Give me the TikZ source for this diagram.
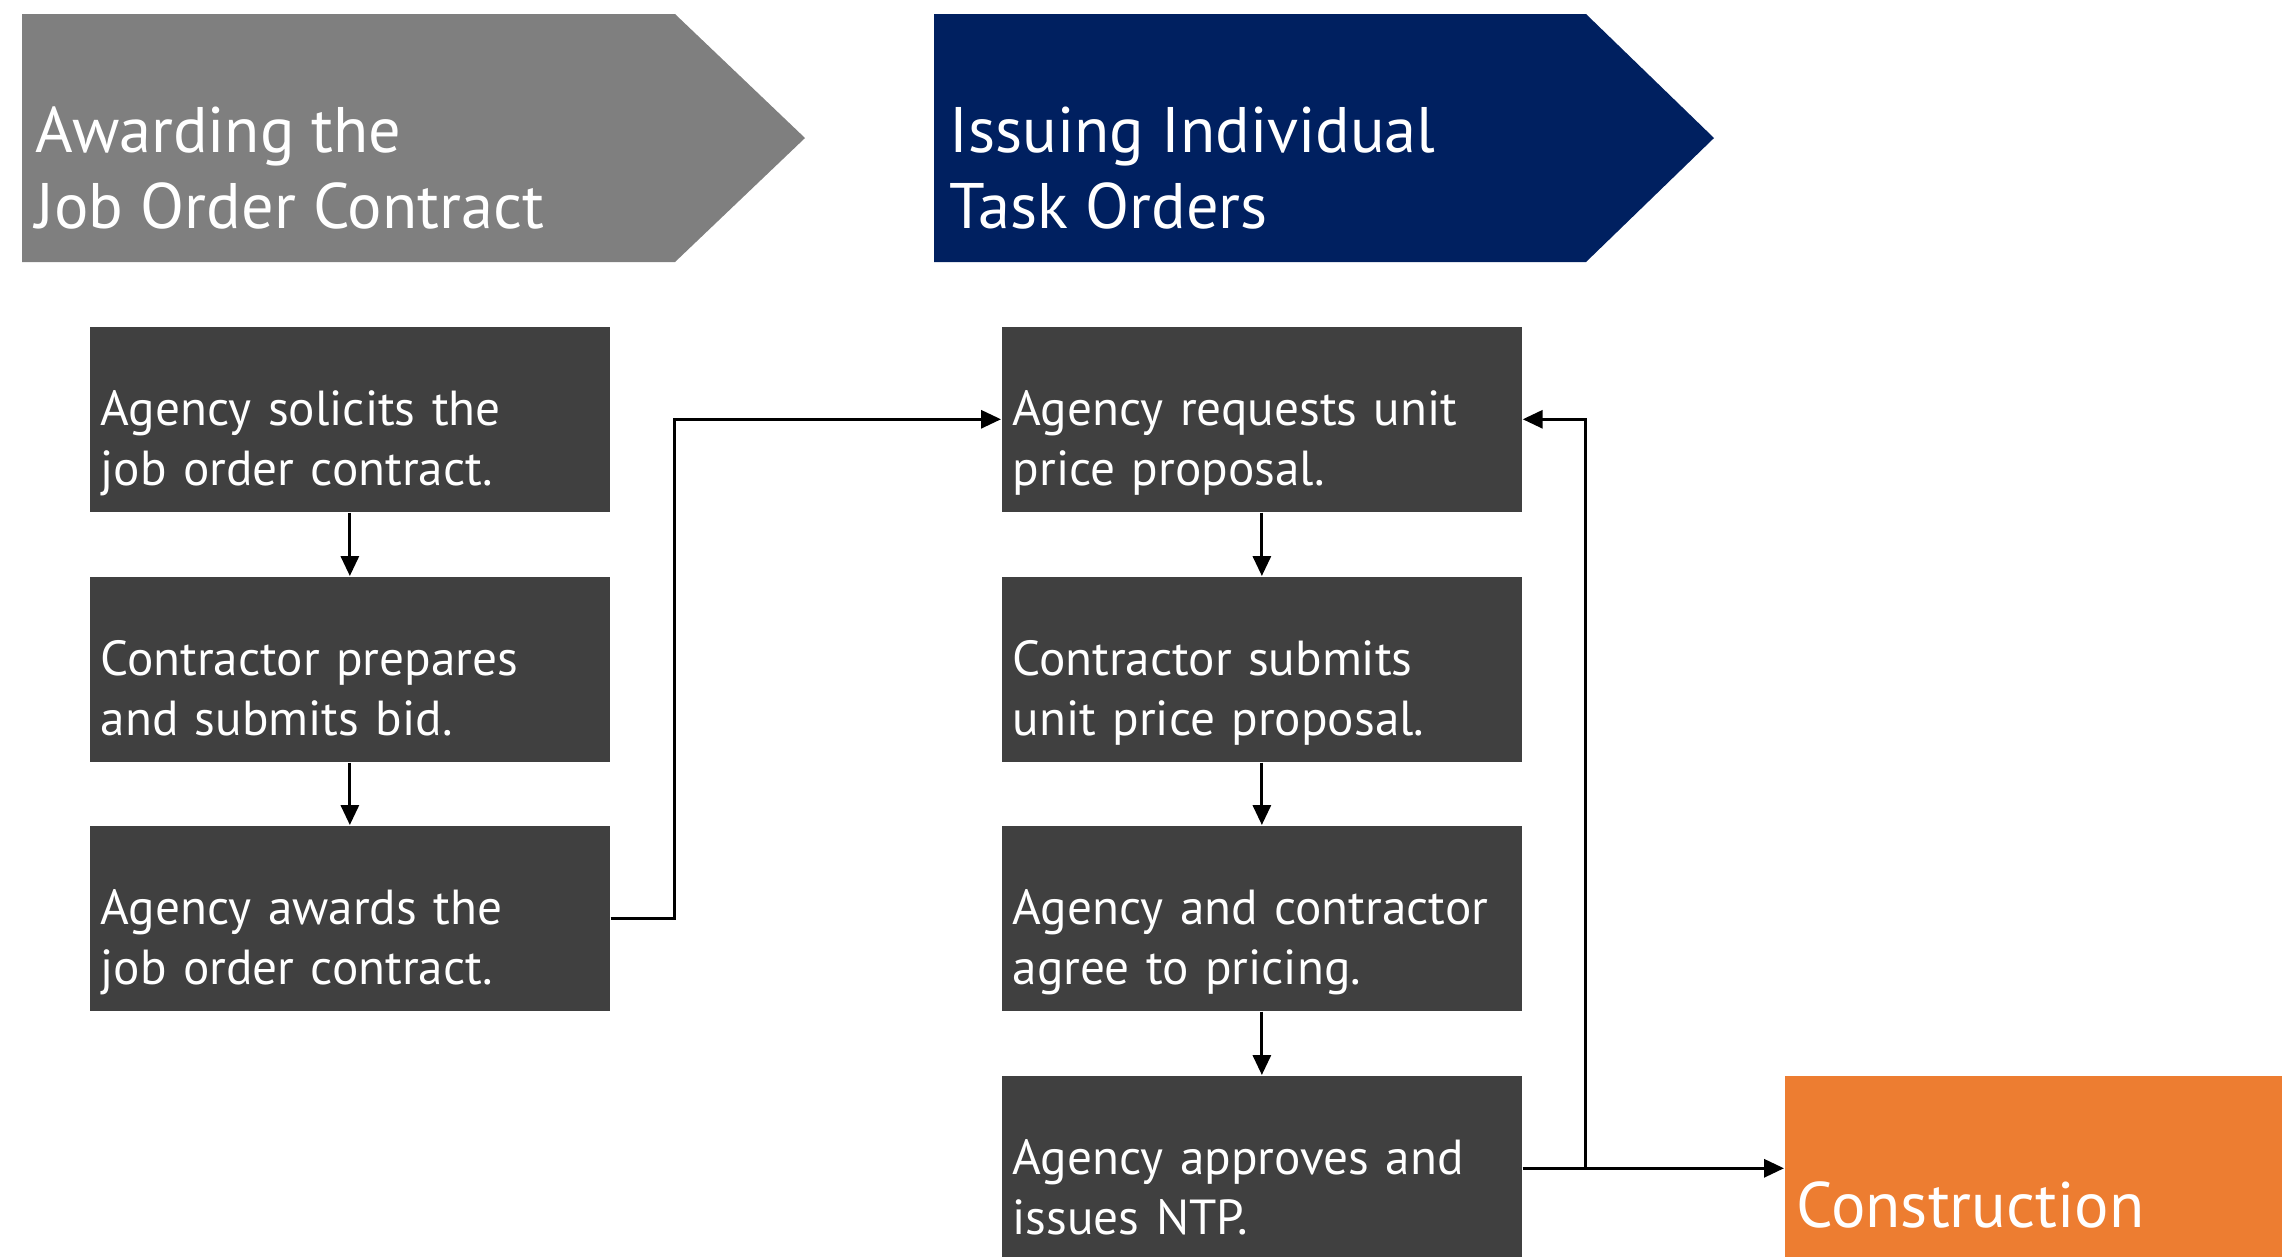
\documentclass[tikz,border=0pt]{standalone}
\usepackage{fontspec}
\setmainfont{PT Sans}
\usetikzlibrary{arrows.meta}

\definecolor{bannergray}{HTML}{7F7F7F}
\definecolor{bannernavy}{HTML}{002060}
\definecolor{stepgray}{HTML}{404040}
\definecolor{buildorange}{HTML}{ED7D31}

\begin{document}
\begin{tikzpicture}[x=0.01cm,y=-0.01cm]
        \tikzstyle{every node}=[font=\fontsize{14}{17}\selectfont, text=white]
        \tikzstyle{stepbox}=[fill=stepgray, anchor=north west, minimum width=5.2cm, minimum height=1.85cm, text width=4.98cm, inner xsep=0.11cm, align=left, text height=0.83cm, text depth=0.7cm]
        \tikzstyle{title}=[font=\fontsize{18.3}{21.6}\selectfont, anchor=base west, align=left, inner sep=0]
        \tikzstyle{flow}=[line width=0.9pt, -{Triangle[length=0.2cm,width=0.18cm]}]

        \useasboundingbox (0,0) rectangle (2282,1256);

        \fill[bannergray] (22,14) -- (675,14) -- (805,138) -- (675,262) -- (22,262) -- cycle;
        \fill[bannernavy] (934,14) -- (1586,14) -- (1714,138) -- (1586,262) -- (934,262) -- cycle;
        \node[title] (award) at (35,228) {Awarding the\\Job Order Contract};
        \node[title] (issue) at (949,228) {Issuing Individual\\Task Orders};

        \node[stepbox] (solicit) at (89,326) {Agency solicits the\\job order contract.};
        \node[stepbox] (prepare) at (89,576) {Contractor prepares\\and submits bid.};
        \node[stepbox] (awards) at (89,825) {Agency awards the\\job order contract.};

        \node[stepbox] (request) at (1001,326) {Agency requests unit\\price proposal.};
        \node[stepbox] (submit) at (1001,576) {Contractor submits\\unit price proposal.};
        \node[stepbox] (agree) at (1001,825) {Agency and contractor\\agree to pricing.};
        \node[stepbox] (approve) at (1001,1075) {Agency approves and\\issues NTP.};

        \node[stepbox, fill=buildorange, minimum height=2.64cm, inner xsep=0.12cm, text height=0.5cm, text depth=0.1cm, font=\fontsize{18.3}{21.6}\selectfont] (build) at (1784,1075) {Construction};

        \draw[flow] (solicit.south) -- (prepare.north);
        \draw[flow] (prepare.south) -- (awards.north);
        \draw[flow] (awards.east) -- ([xshift=0.64cm]awards.east) |- (request.west);

        \draw[flow] (request.south) -- (submit.north);
        \draw[flow] (submit.south) -- (agree.north);
        \draw[flow] (agree.south) -- (approve.north);
        \draw[flow] ([xshift=0.63cm]approve.east) |- (request.east);
        \draw[flow] (approve.east) -- (build.west |- approve.east);
\end{tikzpicture}
\end{document}
